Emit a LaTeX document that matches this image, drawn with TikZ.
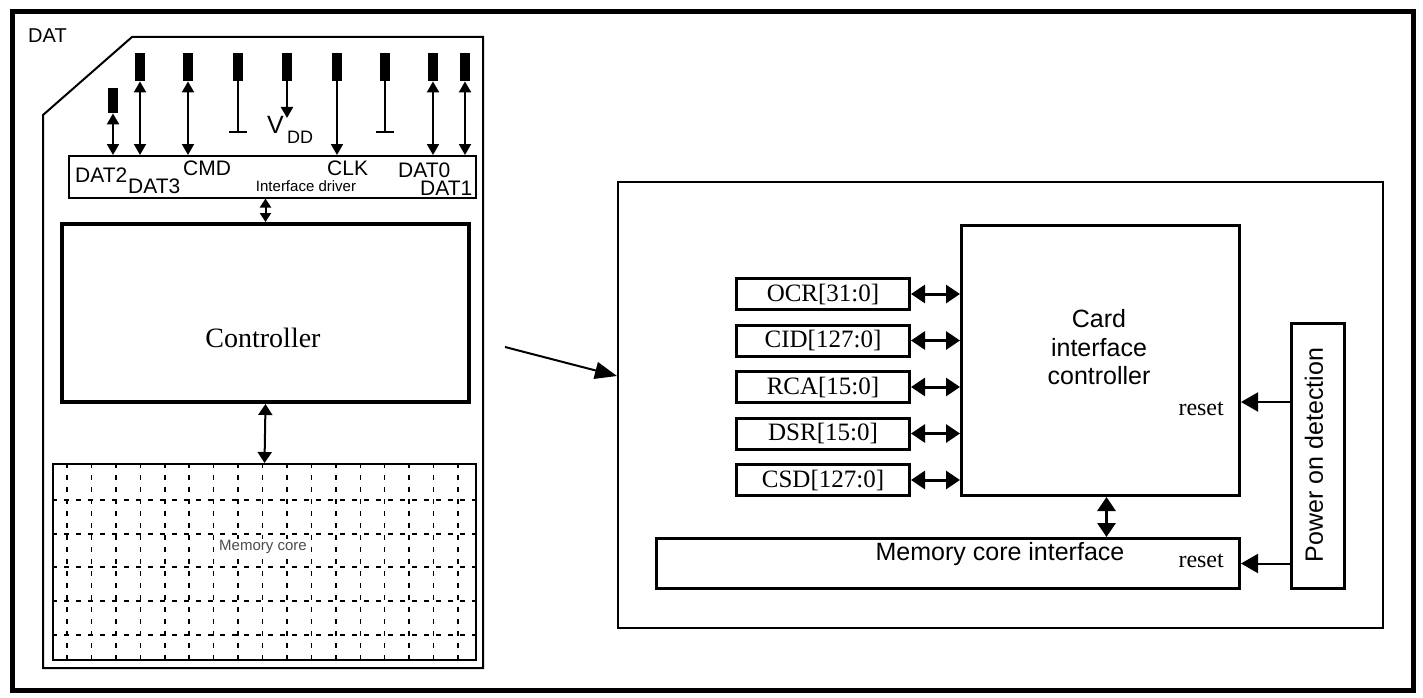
\documentclass[tikz,border=0pt]{standalone}
\usepackage{fontspec}
\setmainfont{Liberation Serif}
\newfontfamily\arial{Liberation Sans}
\usetikzlibrary{arrows.meta,calc}
\newcommand\fsz[1]{\fontsize{#1}{#1}\selectfont}
\begin{document}
\begin{tikzpicture}[x=1pt,y=-1pt,
  box/.style={draw, inner sep=0pt, anchor=north west},
  pinbox/.style={fill=black, draw=none, inner sep=0pt, minimum width=10pt, anchor=north},
  bi/.style={line width=2pt, {Triangle[length=11pt,width=12pt]}-{Triangle[length=11pt,width=12pt]}},
  uni/.style={line width=2pt, -{Triangle[length=11pt,width=12pt]}},
  bibig/.style={line width=3pt, {Triangle[length=14pt,width=18pt]}-{Triangle[length=14pt,width=18pt]}},
  rst/.style={line width=2pt, -{Triangle[length=17pt,width=19pt]}},
  gridl/.style={line width=1.5pt, dash pattern=on 5pt off 7pt},
  sans/.style={font=\arial\fsz{21}, inner sep=0pt},
  reg/.style={box, line width=3pt, minimum width=173pt, minimum height=31pt, font=\fsz{25}}
]
\useasboundingbox (0,0) rectangle (1423,698);
% outer frame
\draw[line width=5pt] (12,12) rectangle (1413,690);
% card outline
\draw[line width=2pt] (43,668) -- (43,115) -- (132,37) -- (483,37) -- (483,668) -- cycle;
\node[sans, font=\arial\fsz{20}, anchor=base west] (datlbl) at (28,43) {DAT};

% interface driver
\node[box, line width=1.5pt, minimum width=407pt, minimum height=42pt] (ifd) at (68,155) {};
\node[font=\arial\fsz{15}, inner sep=0pt, anchor=base] (ifdl) at (306,191) {Interface driver};
\node[sans, anchor=base west] (l1) at (75,182) {DAT2};
\node[sans, anchor=base west] (l2) at (128,193) {DAT3};
\node[sans, anchor=base west] (l3) at (183,175) {CMD};
\node[sans, anchor=base west] (l4) at (327,175) {CLK};
\node[sans, anchor=base west] (l5) at (398,177) {DAT0};
\node[sans, anchor=base west] (l6) at (420,195) {DAT1};

% pins
\node[pinbox, minimum height=25pt] (p1) at (113,88) {};
\node[pinbox, minimum height=28pt] (p2) at (140,53) {};
\node[pinbox, minimum height=28pt] (p3) at (188,53) {};
\node[pinbox, minimum height=28pt] (p4) at (238,53) {};
\node[pinbox, minimum height=28pt] (p5) at (287,53) {};
\node[pinbox, minimum height=28pt] (p6) at (337,53) {};
\node[pinbox, minimum height=28pt] (p7) at (385,53) {};
\node[pinbox, minimum height=28pt] (p8) at (433,53) {};
\node[pinbox, minimum height=28pt] (p9) at (465,53) {};

\draw[bi] (p1.south) -- (p1.south |- ifd.north);
\draw[bi] (p2.south) -- (p2.south |- ifd.north);
\draw[bi] (p3.south) -- (p3.south |- ifd.north);
\draw[uni] (p6.south) -- (p6.south |- ifd.north);
\draw[bi] (p8.south) -- (p8.south |- ifd.north);
\draw[bi] (p9.south) -- (p9.south |- ifd.north);
% grounds
\node[fill=black, inner sep=0pt, minimum width=18pt, minimum height=2pt] (g1) at (238,132) {};
\node[fill=black, inner sep=0pt, minimum width=18pt, minimum height=2pt] (g2) at (385,132) {};
\draw[line width=2pt] (p4.south) -- (g1.north);
\draw[line width=2pt] (p7.south) -- (g2.north);
% VDD
\coordinate (vdd) at (287,118);
\draw[uni] (p5.south) -- (vdd);
\node[font=\arial\fsz{25}, inner sep=0pt, anchor=base west] (vl) at (267,133) {V};
\node[font=\arial\fsz{18}, inner sep=0pt, anchor=base west] (vdl) at (287,143) {DD};

% controller
\node[box, line width=4pt, minimum width=407pt, minimum height=178pt] (ctrl) at (60,222) {};
\node[font=\fsz{28}, inner sep=0pt, anchor=base] (ctrll) at (263,347) {Controller};
\draw[line width=2pt, {Triangle[length=9pt,width=11pt]}-{Triangle[length=9pt,width=11pt]}] (ctrl.north |- ifd.south) -- (ctrl.north);

% memory core
\foreach \i in {0,...,16} \draw[gridl] ({67+\i*24.44},463) -- ({67+\i*24.44},659);
\foreach \y in {500,534,567,601,635} \draw[gridl] (52,\y) -- (475,\y);
\node[box, line width=2pt, minimum width=423pt, minimum height=196pt] (mem) at (52,463) {};
\node[font=\arial\fsz{15}, text=black!70, fill=white, inner sep=1pt, anchor=base] (meml) at (263,550) {Memory core};
\draw[line width=2pt, {Triangle[length=11pt,width=14pt]}-{Triangle[length=11pt,width=14pt]}] (ctrl.south) -- (mem.north);

% right panel
\node[box, line width=2pt, minimum width=765pt, minimum height=446pt] (panel) at (617,181) {};
\coordinate (src) at (505,347);
\coordinate (tip) at ($(panel.north west)+(0,195)$);
\draw[line width=2pt, -{Triangle[length=22pt,width=17pt]}] (src) -- (tip);

% card interface controller
\node[box, line width=3pt, minimum width=278pt, minimum height=270pt] (cic) at (960,224) {};
\node[font=\arial\fsz{25}, inner sep=0pt, anchor=base] (cicl1) at (1099,327) {Card};
\node[font=\arial\fsz{25}, inner sep=0pt, anchor=base] (cicl2) at (1099,356) {interface};
\node[font=\arial\fsz{25}, inner sep=0pt, anchor=base] (cicl3) at (1099,384) {controller};

% registers
\node[reg] (ocr) at (735,277) {OCR[31:0]};
\node[reg] (cid) at (735,323.5) {CID[127:0]};
\node[reg] (rca) at (735,370) {RCA[15:0]};
\node[reg] (dsr) at (735,416.5) {DSR[15:0]};
\node[reg] (csd) at (735,463) {CSD[127:0]};
\foreach \r in {ocr,cid,rca,dsr,csd} \draw[bibig] (\r.east) -- (\r.east -| cic.west);

% memory core interface
\node[box, line width=3pt, minimum width=583pt, minimum height=50pt] (mci) at (655,537) {};
\node[font=\arial\fsz{25}, inner sep=0pt, anchor=base] (mcil) at (1000,560) {Memory core interface};
\draw[bibig] ([xshift=6pt]cic.south) -- ([xshift=6pt]cic.south |- mci.north);

% power on detection
\node[box, line width=3pt, minimum width=53pt, minimum height=265pt] (pod) at (1290,322) {};
\node[font=\arial\fsz{25}, inner sep=0pt, rotate=90] (podl) at ($(pod.center)+(-4,-1)$) {Power on detection};
\draw[rst] ([yshift=-80pt]pod.north west) -- ([yshift=-80pt]pod.north west -| cic.east);
\draw[rst] (pod.west |- mci.east) -- (mci.east);
\node[font=\fsz{24}, inner sep=0pt, anchor=base east] (rs1) at (1224,415) {reset};
\node[font=\fsz{24}, inner sep=0pt, anchor=base east] (rs2) at (1224,567) {reset};
\end{tikzpicture}
\end{document}
